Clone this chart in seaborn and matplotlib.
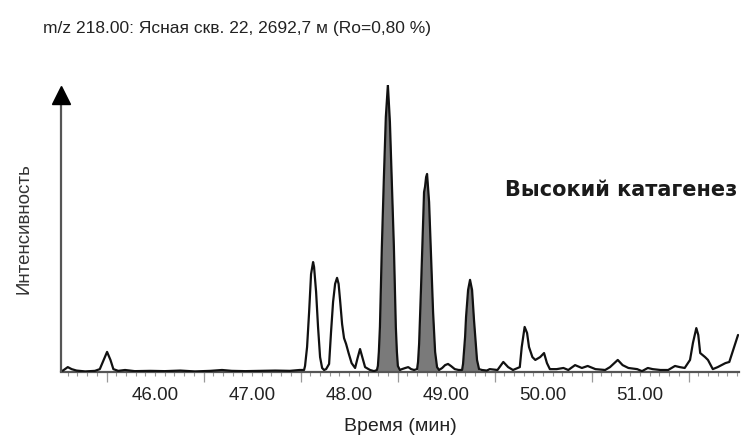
import numpy as np
import pandas as pd
import matplotlib
matplotlib.use("Agg")
import matplotlib.pyplot as plt
import seaborn as sns

# Ion chromatogram m/z 218, retention time (min) vs relative intensity (%)
time_min = [
    45.02, 45.05, 45.10, 45.14, 45.19, 45.28, 45.38, 45.43, 45.47, 45.505,
    45.54, 45.57, 45.62, 45.69, 45.79, 45.95, 46.10, 46.26, 46.41, 46.57,
    46.69, 46.79, 46.93, 47.08, 47.24, 47.39, 47.49,
    47.536, 47.546, 47.567, 47.588, 47.608, 47.629, 47.639, 47.660, 47.680,
    47.701, 47.722, 47.742, 47.763,
    47.794, 47.814, 47.835, 47.856, 47.876, 47.892, 47.907, 47.928, 47.948,
    47.969, 47.995, 48.026, 48.062, 48.088, 48.113, 48.139, 48.165, 48.216,
    48.258,
    48.287, 48.297, 48.307, 48.318, 48.338, 48.359, 48.379, 48.400, 48.421,
    48.441, 48.462, 48.482, 48.493, 48.503, 48.524,
    48.545, 48.580, 48.610, 48.640, 48.670,
    48.701, 48.711, 48.722, 48.742, 48.763, 48.773, 48.783, 48.794, 48.804,
    48.825, 48.845, 48.866, 48.887, 48.907, 48.928,
    48.960, 48.990, 49.020, 49.050, 49.090, 49.130,
    49.165, 49.175, 49.196, 49.206, 49.227, 49.247, 49.268, 49.288, 49.299,
    49.319, 49.340,
    49.37, 49.42, 49.45, 49.53, 49.59, 49.64, 49.69,
    49.76, 49.78, 49.81, 49.835, 49.855, 49.89, 49.92, 49.97, 50.01, 50.04,
    50.07, 50.14, 50.21, 50.26, 50.33, 50.40, 50.46, 50.54, 50.64, 50.69,
    50.77, 50.82, 50.88, 50.97, 51.02, 51.08, 51.13, 51.21, 51.29, 51.36,
    51.41, 51.46, 51.515, 51.545, 51.58, 51.60, 51.62, 51.67, 51.70, 51.75,
    51.80, 51.88, 51.92, 51.96, 52.01,
]
intensity = [
    0.3, 0.5, 1.7, 1.0, 0.5, 0.2, 0.4, 1.0, 4.2, 7.0,
    4.2, 1.0, 0.4, 0.7, 0.3, 0.4, 0.3, 0.5, 0.2, 0.4,
    0.7, 0.4, 0.3, 0.4, 0.5, 0.4, 0.7,
    0.7, 2.1, 8.7, 20.9, 34.1, 38.3, 36.6, 27.9, 15.7,
    5.2, 1.4, 0.7, 1.0,
    2.8, 13.9, 24.4, 30.7, 32.8, 30.7, 25.1, 16.7, 11.8,
    9.8, 6.6, 3.1, 1.4, 4.9, 8.0, 4.9, 1.7, 0.7,
    0.3,
    0.7, 2.1, 7.0, 15.7, 43.6, 67.9, 88.9, 100.0, 87.1,
    66.2, 43.6, 15.7, 7.0, 2.1, 0.7,
    1.0, 1.4, 1.7, 1.0, 0.7,
    1.0, 3.5, 9.8, 29.6, 52.3, 62.7, 64.5, 67.9, 69.0,
    59.2, 40.1, 20.9, 7.0, 1.7, 0.7,
    1.4, 2.4, 2.8, 2.1, 1.0, 0.7,
    0.7, 2.8, 12.2, 19.2, 28.6, 32.1, 28.6, 18.1, 13.2,
    4.2, 1.0,
    0.7, 0.5, 1.0, 0.7, 3.5, 1.7, 0.7,
    1.7, 8.7, 15.7, 13.6, 8.7, 5.2, 4.2, 5.2, 6.6, 3.1,
    1.0, 1.0, 1.4, 0.7, 2.4, 1.4, 2.1, 1.0, 0.7, 1.7,
    4.2, 2.4, 1.4, 1.0, 0.3, 1.4, 1.0, 0.7, 0.7, 2.1,
    1.7, 1.4, 4.2, 10.1, 15.3, 12.9, 6.6, 5.2, 4.2, 1.0,
    1.7, 3.1, 3.5, 7.7, 12.9,
]

# Integration windows of the shaded sterane peaks (start, end), min
window_start = [48.287, 48.701, 49.165]
window_end = [48.524, 48.928, 49.340]

xtick_values = [46, 47, 48, 49, 50, 51]
xtick_labels = ["46.00", "47.00", "48.00", "49.00", "50.00", "51.00"]
half_marks = [45.5, 46.5, 47.5, 48.5, 49.5, 50.5, 51.5]

title_text = "m/z 218.00: Ясная скв. 22, 2692,7 м (Ro=0,80 %)"
note_text = "Высокий катагенез"
x_label = "Время (мин)"
y_label = "Интенсивность"

sns.set_theme(style="white")
plt.rcParams["font.family"] = ["Liberation Sans", "DejaVu Sans"]

df = pd.DataFrame({"t": time_min, "i": intensity})

fig = plt.figure(figsize=(7.43, 4.37), dpi=100)
ax = fig.add_axes([61 / 743, 65 / 437, 678 / 743, 287 / 437])

t = np.asarray(time_min)
y = np.asarray(intensity)
for a, b in zip(window_start, window_end):
    m = (t >= a) & (t <= b)
    ax.fill_between(t[m], y[m], 0, color="#7a7a7a", lw=0, zorder=2)

sns.lineplot(data=df, x="t", y="i", ax=ax, color="#111111", lw=1.6,
             estimator=None, sort=False, zorder=3)

ax.set_xlim(45.03, 52.02)
ax.set_ylim(0, 100)

axis_grey = "#555555"
for s in ["top", "right", "left"]:
    ax.spines[s].set_visible(False)
ax.spines["bottom"].set_color(axis_grey)
ax.spines["bottom"].set_linewidth(1.6)

# vertical intensity axis ending in an arrow head
ax.plot([0, 0], [0, 0.95], transform=ax.transAxes, color=axis_grey,
        lw=1.6, clip_on=False, zorder=4)
ax.plot([0], [0.965], transform=ax.transAxes, marker="^", markersize=12.5,
        color="black", clip_on=False, zorder=5)

ax.set_yticks([])
ax.set_xticks(xtick_values)
ax.set_xticklabels(xtick_labels)
ax.set_xticks(np.arange(451, 521) / 10, minor=True)
ax.tick_params(axis="x", which="major", length=3, width=0.8, color="#999999",
               pad=8, labelsize=13.5, labelcolor="#222222", direction="out", bottom=True)
ax.tick_params(axis="x", which="minor", length=3, width=0.8, color="#999999",
               direction="out", bottom=True)

sec = ax.secondary_xaxis("bottom")
sec.set_xticks(half_marks)
sec.set_xticklabels([])
sec.spines["bottom"].set_visible(False)
sec.tick_params(axis="x", length=7, width=0.9, color="#999999", direction="out")

ax.set_xlabel(x_label, fontsize=14, color="#222222", labelpad=10)
ax.set_ylabel("")
fig.text(24 / 743, 1 - 229 / 437, y_label, rotation=90, fontsize=13.5,
         color="#333333", ha="center", va="center")

fig.text(43 / 743, 1 - 28 / 437, title_text, fontsize=12.5, color="#222222",
         ha="left", va="center")
ax.text(0.998, 1 - (190 - 85) / 287, note_text, transform=ax.transAxes,
        fontsize=15, fontweight="bold", color="#1a1a1a", ha="right", va="center",
        family=["DejaVu Sans"])

fig.savefig("out.png", dpi=100)
